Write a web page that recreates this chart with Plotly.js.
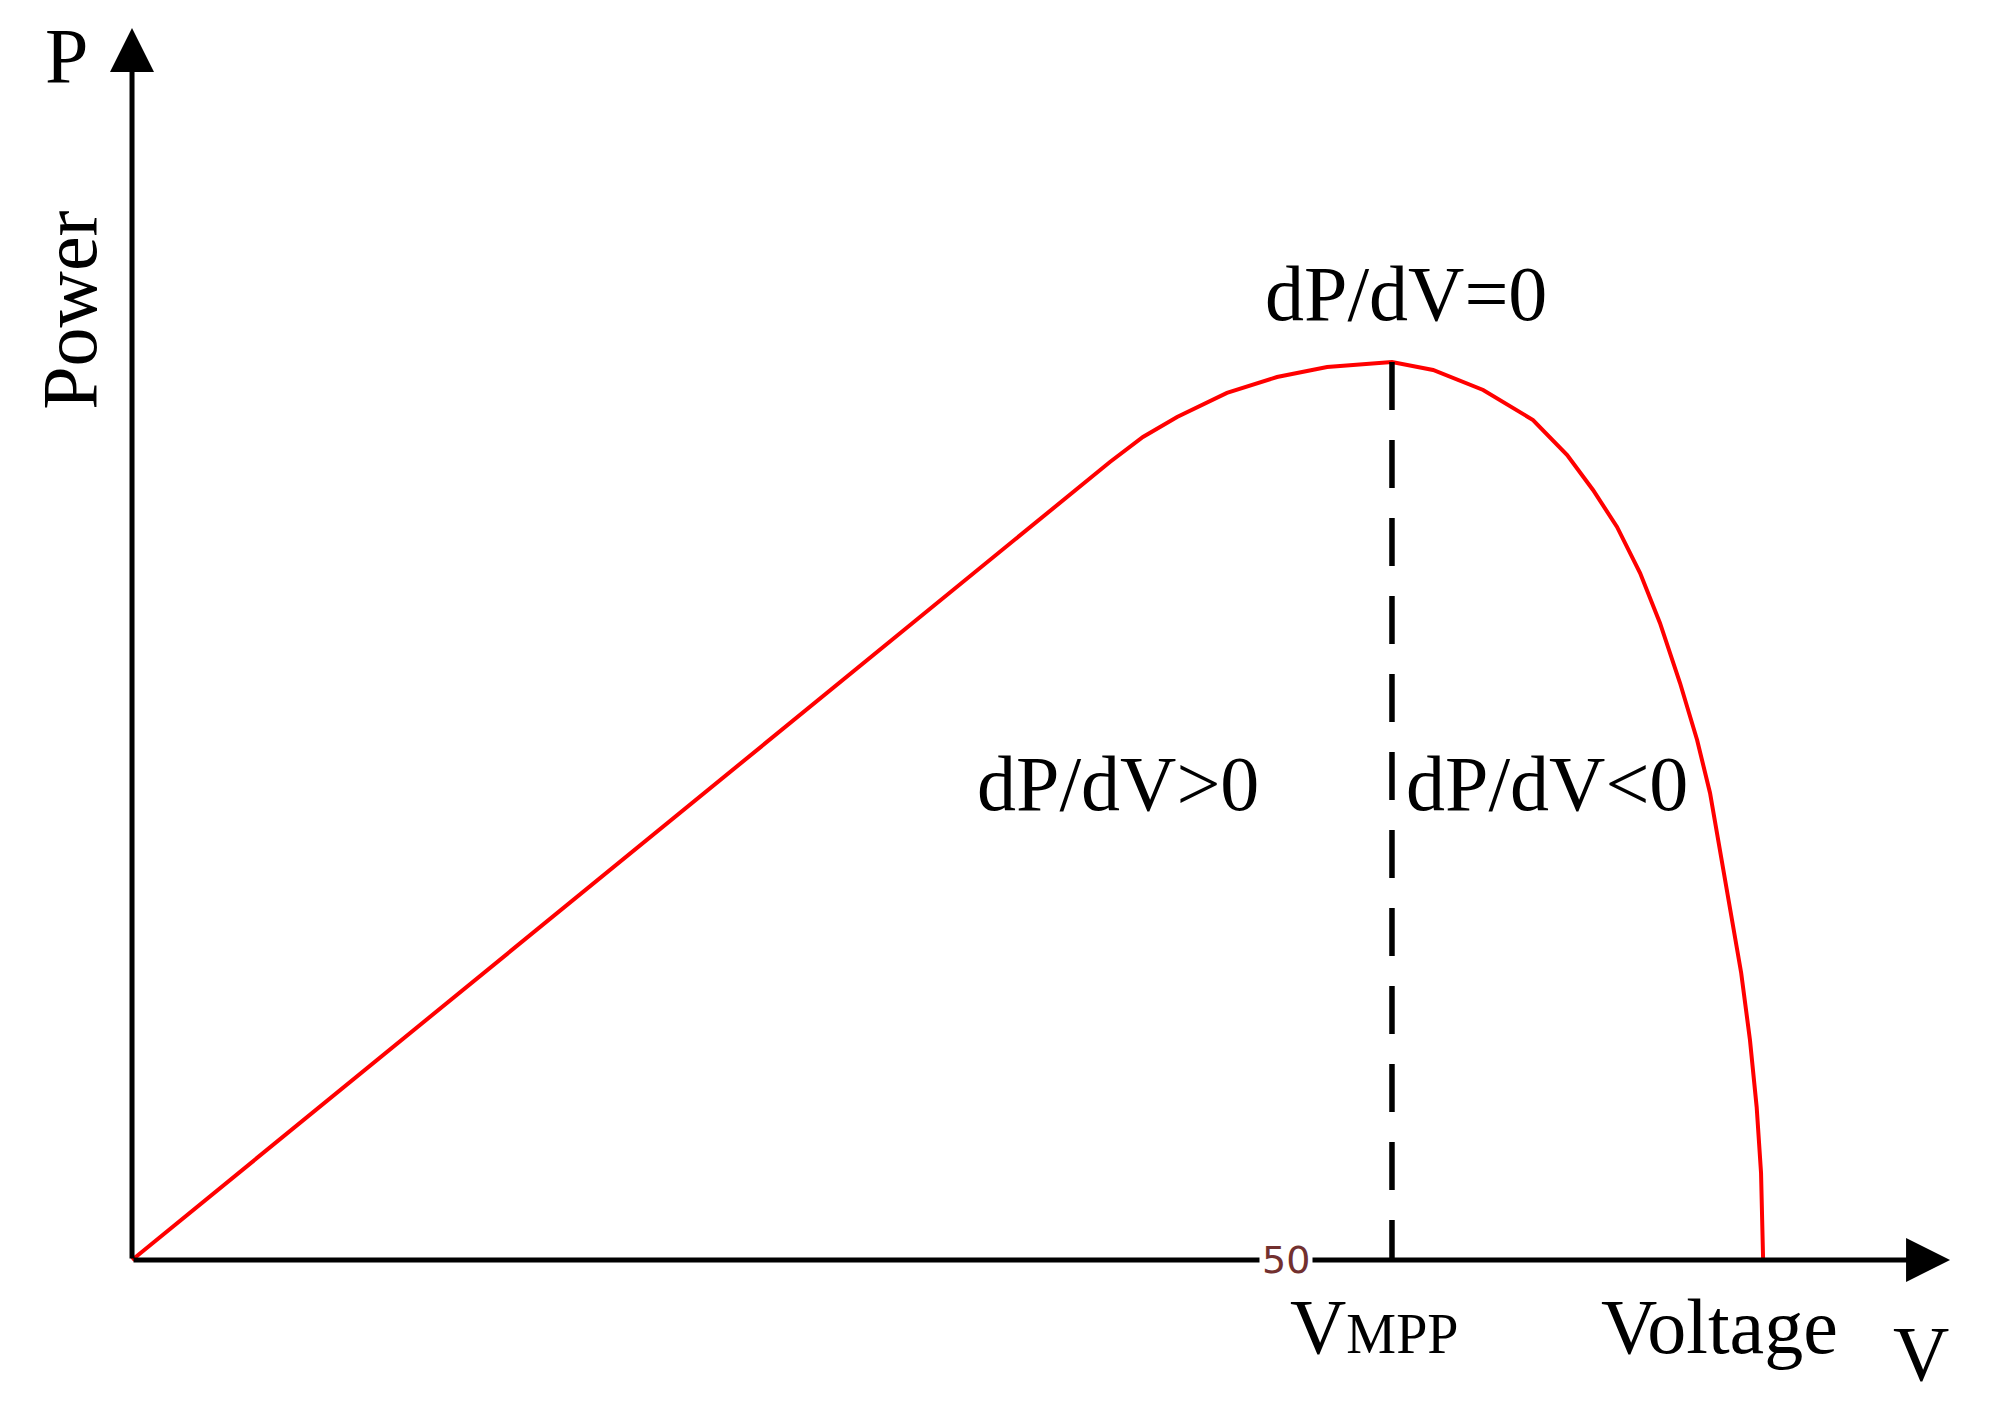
<!DOCTYPE html>
<html>
<head>
<meta charset="utf-8">
<script src="https://cdn.plot.ly/plotly-3.0.1.min.js"></script>
<style>
  html, body { margin: 0; padding: 0; background: #fff; }
  #chart { width: 1990px; height: 1412px; }
</style>
</head>
<body>
<div id="chart"></div>
<script>
// P-V curve, power normalised to 100 at the maximum power point
const voltage = [0, 42.37, 43.80, 45.28, 47.44, 49.61, 51.78, 54.59, 56.37, 58.54, 60.70,
                 62.18, 63.30, 64.34, 65.34, 66.20, 67.07, 67.81, 68.37, 68.85, 69.22,
                 69.72, 70.10, 70.39, 70.58, 70.67];
const power   = [0, 88.86, 91.65, 93.88, 96.55, 98.33, 99.44, 100, 99.11, 96.88, 93.54,
                 89.64, 85.75, 81.63, 76.50, 70.94, 64.25, 57.91, 52.00, 44.88, 39.31,
                 31.96, 24.50, 17.04, 9.69, 0];

const vMpp = 54.59;
const pMpp = 100;
const vAxisEnd = 78.77;
const pAxisEnd = 137.2;
const xTickVal = 50;
const xTickText = '50';

const serif = 'Liberation Serif, Times New Roman, serif';
const big = 78;

const traces = [
    {
        x: voltage, y: power,
        type: 'scatter', mode: 'lines',
        line: { color: '#ff0000', width: 4 },
        hoverinfo: 'skip'
    },
    {
        x: [vMpp, vMpp], y: [pMpp, 0],
        type: 'scatter', mode: 'lines',
        line: { color: '#000', width: 5.5, dash: '48px,30px' },
        hoverinfo: 'skip'
    }
];

const txt = (text, x, y, opts) => Object.assign({
    text: text, x: x, y: y, xref: 'x', yref: 'y',
    showarrow: false, xanchor: 'center', yanchor: 'middle',
    font: { family: serif, size: big, color: '#000' }
}, opts || {});

const annotations = [
    // axes with arrow heads
    { x: vAxisEnd, y: 0, ax: 0, ay: 0, xref: 'x', yref: 'y', axref: 'x', ayref: 'y',
      showarrow: true, arrowhead: 2, arrowwidth: 5, arrowsize: 1.76, arrowcolor: '#000', text: '' },
    { x: 0, y: pAxisEnd, ax: 0, ay: 0, xref: 'x', yref: 'y', axref: 'x', ayref: 'y',
      showarrow: true, arrowhead: 2, arrowwidth: 5, arrowsize: 1.76, arrowcolor: '#000', text: '' },

    txt('P', 0, pAxisEnd, { xshift: -66, yshift: -28 }),
    txt('Power', 0, 105.7, { xshift: -62, textangle: -90 }),
    txt('dP/dV=0', vMpp, pMpp, { xshift: 14, yshift: 68 }),
    txt('dP/dV&gt;0', 42.72, 53.1),
    txt('dP/dV&lt;0', vMpp, 53.1, { xanchor: 'left', xshift: 12 }),
    txt('V<span style="font-size:56px">MPP</span>', vMpp, 0, { xshift: -18, yshift: -67 }),
    txt('Voltage', 68.78, 0, { yshift: -67 }),
    txt('V', vAxisEnd, 0, { xshift: -29, yshift: -94 }),

    // the lone tick label sitting on the axis
    { text: xTickText, x: xTickVal, y: 0, xref: 'x', yref: 'y', showarrow: false,
      bgcolor: '#fff', borderpad: 2,
      font: { family: 'DejaVu Sans', size: 38, color: '#72302f' } }
];

const layout = {
    width: 1990, height: 1412,
    margin: { l: 0, r: 0, t: 0, b: 0 },
    paper_bgcolor: '#fff', plot_bgcolor: '#fff',
    showlegend: false,
    xaxis: { range: [-5.72, 80.5], visible: false, fixedrange: true },
    yaxis: { range: [-16.93, 140.31], visible: false, fixedrange: true },
    annotations: annotations
};

Plotly.newPlot('chart', traces, layout, { displayModeBar: false, staticPlot: true });
</script>
</body>
</html>
